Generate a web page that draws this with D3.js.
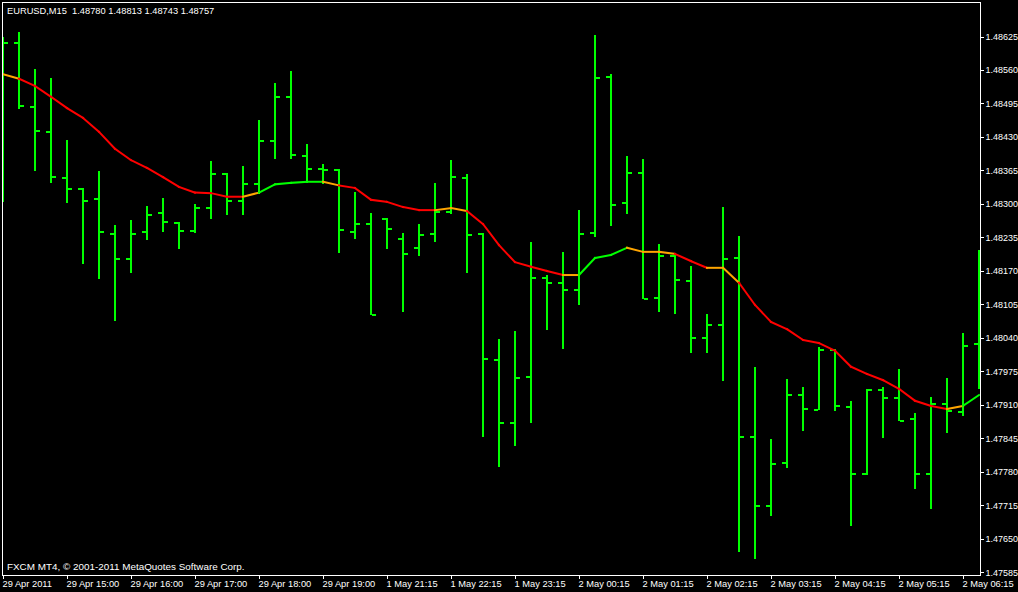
<!DOCTYPE html>
<html>
<head>
<meta charset="utf-8">
<script src="https://cdn.jsdelivr.net/npm/d3@7/dist/d3.min.js"></script>
<style>
  html, body { margin: 0; padding: 0; background: #000; }
  svg { display: block; }
  text { font-family: "Liberation Sans", Arial, sans-serif; fill: #fff; }
</style>
</head>
<body>
<svg id="chart" width="1018" height="592"></svg>
<script>
// ---- DATA ----
const headerText = "EURUSD,M15  1.48780 1.48813 1.48743 1.48757";
const copyrightText = "FXCM MT4, \u00A9 2001-2011 MetaQuotes Software Corp.";

const barOpen = [1.48520,1.48612,1.48488,1.48440,1.48350,1.48329,1.48310,1.48242,1.48193,1.48246,
  1.48282,1.48263,1.48248,1.48292,1.48358,1.48306,1.48339,1.48422,1.48508,1.48393,
  1.48368,1.48366,1.48246,1.48261,1.48271,1.48232,1.48215,1.48242,1.48284,1.48350,
  1.48242,1.47997,1.47875,1.47964,1.48156,1.48147,1.48133,1.48244,1.48546,1.48302,
  1.48360,1.48117,1.48199,1.48150,1.48040,1.48065,1.48195,1.47848,1.47714,1.47797,
  1.47929,1.47900,1.48017,1.47906,1.47776,1.47939,1.47923,1.47883,1.47776,1.47912,
  1.47896,1.48028];
const barHigh = [1.48624,1.48634,1.48562,1.48544,1.48424,1.48331,1.48364,1.48259,1.48269,1.48296,
  1.48312,1.48265,1.48300,1.48383,1.48360,1.48374,1.48463,1.48535,1.48558,1.48416,
  1.48378,1.48368,1.48323,1.48282,1.48273,1.48244,1.48261,1.48341,1.48385,1.48358,
  1.48244,1.48038,1.48053,1.48226,1.48162,1.48207,1.48288,1.48628,1.48552,1.48393,
  1.48387,1.48222,1.48201,1.48180,1.48086,1.48294,1.48238,1.47984,1.47844,1.47960,
  1.47945,1.48022,1.48018,1.47918,1.47941,1.47945,1.47980,1.47894,1.47925,1.47962,
  1.48050,1.48211];
const barLow = [1.48304,1.48484,1.48364,1.48341,1.48302,1.48183,1.48154,1.48073,1.48166,1.48230,
  1.48246,1.48213,1.48244,1.48271,1.48279,1.48279,1.48319,1.48387,1.48387,1.48341,
  1.48339,1.48205,1.48232,1.48084,1.48213,1.48090,1.48199,1.48226,1.48280,1.48166,
  1.47848,1.47789,1.47830,1.47875,1.48055,1.48018,1.48104,1.48236,1.48257,1.48280,
  1.48115,1.48090,1.48086,1.48011,1.48011,1.47956,1.47624,1.47611,1.47694,1.47788,
  1.47859,1.47900,1.47898,1.47675,1.47774,1.47846,1.47879,1.47747,1.47708,1.47855,
  1.47888,1.47941];
const barClose = [1.48612,1.48490,1.48442,1.48352,1.48329,1.48306,1.48246,1.48193,1.48242,1.48279,
  1.48265,1.48248,1.48292,1.48358,1.48306,1.48339,1.48422,1.48508,1.48395,1.48368,
  1.48366,1.48249,1.48261,1.48084,1.48251,1.48203,1.48240,1.48284,1.48352,1.48240,
  1.47999,1.47875,1.47962,1.48156,1.48147,1.48133,1.48242,1.48544,1.48298,1.48360,
  1.48115,1.48199,1.48152,1.48040,1.48065,1.48193,1.47848,1.47714,1.47795,1.47929,
  1.47902,1.48017,1.47908,1.47776,1.47939,1.47923,1.47879,1.47776,1.47912,1.47898,
  1.48024,1.48180];
const maValues = [1.48552,1.48543,1.48529,1.48508,1.48486,1.48467,1.48440,1.48407,1.48385,1.48370,
  1.48352,1.48333,1.48322,1.48321,1.48314,1.48314,1.48322,1.48338,1.48341,1.48343,
  1.48343,1.48336,1.48331,1.48308,1.48304,1.48294,1.48288,1.48288,1.48292,1.48286,
  1.48261,1.48220,1.48187,1.48178,1.48170,1.48162,1.48162,1.48195,1.48201,1.48215,
  1.48207,1.48207,1.48203,1.48189,1.48176,1.48176,1.48147,1.48104,1.48071,1.48057,
  1.48036,1.48030,1.48015,1.47984,1.47970,1.47958,1.47941,1.47918,1.47908,1.47902,
  1.47908,1.47929];
// MA state of each segment (bar i -> i+1): d = falling, u = rising, f = flat/turning
const maTrend = "fddddddddddddddfuuuufddddddffddddddfuuufffddffdddddddddddddfu".split("");
const timeLabels = ["29 Apr 2011","29 Apr 15:00","29 Apr 16:00","29 Apr 17:00","29 Apr 18:00",
  "29 Apr 19:00","1 May 21:15","1 May 22:15","1 May 23:15","2 May 00:15","2 May 01:15",
  "2 May 02:15","2 May 03:15","2 May 04:15","2 May 05:15","2 May 06:15"];
const priceTicks = ["1.48625","1.48560","1.48495","1.48430","1.48365","1.48300","1.48235",
  "1.48170","1.48105","1.48040","1.47975","1.47910","1.47845","1.47780","1.47715","1.47650","1.47585"];

// ---- LAYOUT ----
const W = 1018, H = 592;
const frame = {x0: 2.5, y0: 2.5, x1: 980.5, y1: 575.5};
const svg = d3.select("#chart");
svg.append("rect").attr("width", W).attr("height", H).attr("fill", "#000");

const n = barOpen.length;
const x = d3.scaleLinear().domain([0, n - 1]).range([3, 3 + 16 * (n - 1)]);
const y = d3.scaleLinear().domain([1.47585, 1.48625]).range([572.3, 36.5]);

const trendColor = {d: "#ff0000", u: "#00ff00", f: "#ffa500"};
const barColor = "#00ff00";

svg.append("clipPath").attr("id", "plotclip").append("rect")
  .attr("x", 3).attr("y", 3).attr("width", 977).attr("height", 572);
const plot = svg.append("g").attr("clip-path", "url(#plotclip)").attr("shape-rendering", "crispEdges");

// bars
const idx = d3.range(n);
const bars = plot.append("g").selectAll("g").data(idx).join("g");
bars.append("rect")
  .attr("x", i => Math.round(x(i)) - 1).attr("width", 2)
  .attr("y", i => Math.round(y(barHigh[i])))
  .attr("height", i => Math.max(1, Math.round(y(barLow[i])) - Math.round(y(barHigh[i]))))
  .attr("fill", barColor);
bars.append("rect")
  .attr("x", i => Math.round(x(i)) - 5).attr("width", 4)
  .attr("y", i => Math.round(y(barOpen[i])) - 1).attr("height", 2)
  .attr("fill", barColor);
bars.append("rect")
  .attr("x", i => Math.round(x(i)) + 1).attr("width", 4)
  .attr("y", i => Math.round(y(barClose[i])) - 1).attr("height", 2)
  .attr("fill", barColor);

// moving average, coloured per segment
const maG = svg.append("g").attr("clip-path", "url(#plotclip)");
const segLine = d3.line().x(i => x(i)).y(i => y(maValues[i]));
maG.selectAll("path").data(d3.range(n - 1)).join("path")
  .attr("d", i => segLine([i, i + 1]))
  .attr("stroke", i => trendColor[maTrend[i]])
  .attr("stroke-width", 2)
  .attr("stroke-linecap", "square")
  .attr("fill", "none");

// frame
svg.append("rect")
  .attr("x", frame.x0).attr("y", frame.y0)
  .attr("width", frame.x1 - frame.x0).attr("height", frame.y1 - frame.y0)
  .attr("fill", "none").attr("stroke", "#fff").attr("stroke-width", 1)
  .attr("shape-rendering", "crispEdges");

// right price axis
const yAxis = d3.axisRight(y)
  .tickValues(priceTicks.map(Number))
  .tickFormat((d, i) => priceTicks[i])
  .tickSize(3).tickPadding(2);
const yAx = svg.append("g").attr("transform", `translate(${frame.x1},0)`).call(yAxis);
yAx.select(".domain").remove();
yAx.selectAll("line").attr("stroke", "#fff").attr("shape-rendering", "crispEdges");
yAx.selectAll("text").attr("fill", "#fff").attr("font-size", "9px")
  .attr("font-family", "Liberation Sans, Arial, sans-serif");

// bottom time axis
const tickIdx = timeLabels.map((_, j) => j * 4);
const xAxis = d3.axisBottom(x)
  .tickValues(tickIdx)
  .tickFormat((d, j) => timeLabels[j])
  .tickSize(3).tickPadding(2);
const xAx = svg.append("g").attr("transform", `translate(0,${frame.y1})`).call(xAxis);
xAx.select(".domain").remove();
xAx.selectAll("line").attr("stroke", "#fff").attr("shape-rendering", "crispEdges");
xAx.selectAll("text").attr("fill", "#fff").attr("font-size", "9.3px")
  .attr("font-family", "Liberation Sans, Arial, sans-serif")
  .attr("text-anchor", "start").attr("dx", "-1");

// header and copyright
svg.append("text").attr("x", 7).attr("y", 14).attr("font-size", "9.3px")
  .style("white-space", "pre").attr("xml:space", "preserve").text(headerText);
svg.append("text").attr("x", 7).attr("y", 570).attr("font-size", "9.9px").text(copyrightText);
</script>
</body>
</html>
